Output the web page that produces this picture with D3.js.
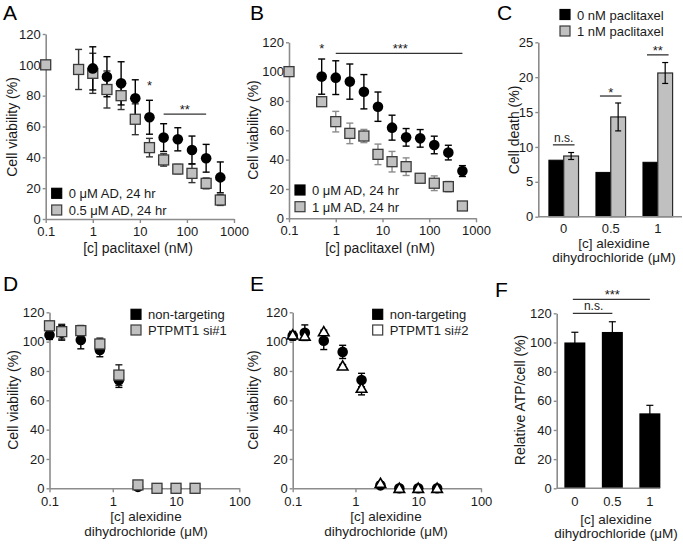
<!DOCTYPE html>
<html><head><meta charset="utf-8">
<script src="https://cdn.jsdelivr.net/npm/d3@7"></script>
<style>body{margin:0;background:#fff} svg{display:block}</style>
</head><body>
<svg id="c" width="683" height="545"></svg>
<script>
// ---------- DATA ----------
const logTickVals = [0.1, 1, 10, 100, 1000];
const logTickLabels = ["0.1", "1", "10", "100", "1000"];
const logTickVals2 = [0.1, 1, 10, 100];
const logTickLabels2 = ["0.1", "1", "10", "100"];
const viabTicks = [0, 20, 40, 60, 80, 100, 120];

// Panel A
const aBlackX = [1, 2, 4, 8, 16, 32, 64, 128, 256, 512];
const aBlackY = [97.7, 92.3, 88, 78.3, 66, 52.8, 51.7, 44.8, 39.4, 27];
const aBlackE = [14, 13, 14, 12, 11, 9, 7.5, 9, 9, 10];
const aGrayX = [0.1, 0.5, 1, 2, 4, 8, 16, 32, 64, 128, 256, 512];
const aGrayY = [100, 97, 94.5, 84, 80, 64.7, 46.3, 38.3, 32.4, 29.6, 23.1, 12.3];
const aGrayE = [0, 13, 13, 12, 9, 10, 6, 4, 3, 6, 3.5, 3.5];
const aLegend = ["0 \u03bcM AD, 24 hr", "0.5 \u03bcM AD, 24 hr"];

// Panel B
const bBlackX = [0.5, 1, 2, 4, 8, 16, 32, 64, 128, 256, 512];
const bBlackY = [96.6, 95.9, 93.2, 86.3, 76.1, 61.8, 55.2, 54.5, 50, 44.8, 32.2];
const bBlackE = [12, 11.5, 12, 11.7, 10, 8.5, 6, 6, 6, 5, 3.7];
const bGrayX = [0.1, 0.5, 1, 2, 4, 8, 16, 32, 64, 128, 256, 512];
const bGrayY = [100, 79.5, 65.9, 57.9, 56.1, 43.6, 38.6, 35.2, 27.3, 23.9, 21.6, 8.4];
const bGrayE = [0, 3, 7, 7, 4.5, 7, 7, 6, 2, 5, 3.5, 2];
const bLegend = ["0 \u03bcM AD, 24 hr", "1 \u03bcM AD, 24 hr"];

// Panel C
const cCats = ["0", "0.5", "1"];
const cBlack = [8.1, 6.35, 7.8];
const cGray = [8.7, 14.3, 20.6];
const cGrayE = [0.5, 2, 1.5];
const cTicks = [0, 5, 10, 15, 20, 25];
const cSig = ["n.s.", "*", "**"];
const cSigLevel = [10.3, 17.3, 23.2];
const cLegend = ["0 nM paclitaxel", "1 nM paclitaxel"];

// Panel D
const dX = [0.1, 0.156, 0.3125, 0.625, 1.25, 2.5, 5, 10, 20];
const dBlackY = [104.5, 106, 101.1, 94.3, 73.8, 1, 0, 0, 0];
const dBlackE = [3, 5, 6, 4.6, 5, 1, 0, 0, 0];
const dGrayY = [110.8, 106.8, 107.5, 98.4, 77.2, 2.3, 0, 0, 0];
const dGrayE = [3, 5, 3.5, 4, 7, 2, 0, 0, 0];
const dLegend = ["non-targeting", "PTPMT1 si#1"];

// Panel E
const eX = [0.1, 0.156, 0.3125, 0.625, 1.25, 2.5, 5, 10, 20];
const eBlackY = [104, 106.1, 100.6, 93, 73.8, 2, 0, 0, 0];
const eBlackE = [3, 5.3, 6, 4.5, 4.6, 1, 0, 0, 0];
const eTriY = [104.5, 103.8, 106.8, 83.4, 68.2, 3.4, 0, 0, 0];
const eTriE = [1, 1, 1, 1, 4.5, 1, 0, 0, 0];
const eLegend = ["non-targeting", "PTPMT1 si#2"];

// Panel F
const fCats = ["0", "0.5", "1"];
const fVals = [100, 107.2, 51.4];
const fErr = [7, 7, 5.5];

// ---------- DRAWING ----------
const FONT = '"Liberation Sans", Arial, Helvetica, sans-serif';
const AXIS = "#8c8c8c";
const GRAY = "#c0c0c0";
const svg = d3.select("#c").attr("font-family", FONT);

function styleAxis(g) {
  g.selectAll("path.domain").attr("stroke", AXIS).attr("stroke-width", 1.6);
  g.selectAll(".tick line").attr("stroke", AXIS).attr("stroke-width", 1.4);
  g.selectAll(".tick text").attr("fill", "#1a1a1a").attr("font-size", 13).attr("font-family", FONT);
}
function text(x, y, s, opts = {}) {
  const t = svg.append("text").attr("x", x).attr("y", y).text(s)
    .attr("font-size", opts.size || 13).attr("fill", opts.fill || "#1a1a1a")
    .attr("text-anchor", opts.anchor || "start");
  if (opts.rotate) t.attr("transform", `rotate(-90,${x},${y})`);
  return t;
}
function panelLabel(x, y, s) { text(x, y, s, { size: 21, fill: "#000" }); }

function yTitle(x, yc, s) { text(x, yc, s, { anchor: "middle", rotate: true, size: 14 }); }
function xTitle(xc, ys, lines, size) { lines.forEach((l, i) => text(xc, ys[i], l, { anchor: "middle", size: size || 14 })); }

function errBars(g, xs, ys, es, x, y, color, cap) {
  xs.forEach((xv, i) => {
    if (!es[i]) return;
    const px = x(xv), top = y(ys[i] + es[i]), bot = y(Math.max(0, ys[i] - es[i]));
    g.append("line").attr("x1", px).attr("x2", px).attr("y1", top).attr("y2", bot).attr("stroke", color).attr("stroke-width", 1.4);
    [top, bot].forEach(yy => g.append("line").attr("x1", px - cap).attr("x2", px + cap).attr("y1", yy).attr("y2", yy).attr("stroke", color).attr("stroke-width", 1.4));
  });
}
function markers(g, xs, ys, x, y, kind) {
  xs.forEach((xv, i) => {
    const px = x(xv), py = y(ys[i]);
    if (kind === "circle") g.append("circle").attr("cx", px).attr("cy", py).attr("r", 5.3).attr("fill", "#000");
    else if (kind === "square") g.append("rect").attr("x", px - 5).attr("y", py - 5).attr("width", 10).attr("height", 10).attr("fill", GRAY).attr("stroke", "#3a3a3a").attr("stroke-width", 1.3);
    else g.append("path").attr("d", d3.symbol(d3.symbolTriangle, 48)()).attr("transform", `translate(${px},${py + 1})`).attr("fill", "#fff").attr("stroke", "#000").attr("stroke-width", 1.6);
  });
}
function legendEntry(x, y, kind, label) {
  const fill = kind === "black" ? "#000" : kind === "gray" ? GRAY : "#fff";
  svg.append("rect").attr("x", x).attr("y", y).attr("width", 10).attr("height", 10).attr("fill", fill).attr("stroke", kind === "black" ? "#000" : "#3a3a3a").attr("stroke-width", 1.2);
  text(x + 17, y + 10, label);
}

function logPanel(cfg) {
  const x = d3.scaleLog().domain(cfg.xdom).range(cfg.xr);
  const y = d3.scaleLinear().domain([0, 120]).range(cfg.yr);
  const gx = svg.append("g").attr("transform", `translate(0,${cfg.yr[0]})`)
    .call(d3.axisBottom(x).tickValues(cfg.ticks).tickFormat((d, i) => cfg.labels[i]).tickSize(4).tickSizeOuter(0).tickPadding(cfg.pad));
  styleAxis(gx);
  const gy = svg.append("g").attr("transform", `translate(${cfg.xr[0]},0)`)
    .call(d3.axisLeft(y).tickValues(viabTicks).tickSize(3).tickSizeOuter(0).tickPadding(2));
  styleAxis(gy);
  const g = svg.append("g");
  return { x, y, g };
}

// ---- Panel A ----
{
  panelLabel(3, 20, "A");
  const { x, y, g } = logPanel({ xdom: [0.1, 1000], xr: [45.7, 234], yr: [219, 34], ticks: logTickVals, labels: logTickLabels, pad: 3.5 });
  errBars(g, aGrayX, aGrayY, aGrayE, x, y, "#333", 3.5);
  errBars(g, aBlackX, aBlackY, aBlackE, x, y, "#000", 3.5);
  markers(g, aGrayX, aGrayY, x, y, "square");
  markers(g, aBlackX, aBlackY, x, y, "circle");
  text(x(16), y(89) + 8, "*", { anchor: "middle" });
  g.append("line").attr("x1", x(32)).attr("x2", x(256)).attr("y1", y(68)).attr("y2", y(68)).attr("stroke", "#333").attr("stroke-width", 1.3);
  text(x(90), y(68) - 0.5, "**", { anchor: "middle" });
  legendEntry(51.7, 188.3, "black", aLegend[0]);
  legendEntry(51.7, 205, "gray", aLegend[1]);
  yTitle(17, 127, "Cell viability (%)");
  xTitle(138, [253], ["[c] paclitaxel (nM)"]);
}
// ---- Panel B ----
{
  panelLabel(250, 20, "B");
  const { x, y, g } = logPanel({ xdom: [0.1, 1000], xr: [289, 476], yr: [218.3, 42.3], ticks: logTickVals, labels: logTickLabels, pad: 3.5 });
  errBars(g, bGrayX, bGrayY, bGrayE, x, y, "#8c8c8c", 3.5);
  errBars(g, bBlackX, bBlackY, bBlackE, x, y, "#000", 3.5);
  markers(g, bGrayX, bGrayY, x, y, "square");
  markers(g, bBlackX, bBlackY, x, y, "circle");
  text(x(0.5), y(118) + 8, "*", { anchor: "middle" });
  g.append("line").attr("x1", x(1)).attr("x2", x(512)).attr("y1", y(112.5)).attr("y2", y(112.5)).attr("stroke", "#333").attr("stroke-width", 1.3);
  text(x(24), y(112.5) - 0.5, "***", { anchor: "middle" });
  legendEntry(295, 185, "black", bLegend[0]);
  legendEntry(295, 201.7, "gray", bLegend[1]);
  yTitle(258, 130, "Cell viability (%)");
  xTitle(380, [253], ["[c] paclitaxel (nM)"]);
}
// ---- Panel C ----
{
  panelLabel(497, 20, "C");
  const x = d3.scaleBand().domain(cCats).range([539.5, 682]).paddingInner(0.37).paddingOuter(0.2);
  const xs = d3.scaleBand().domain(["b", "g"]).range([0, x.bandwidth()]);
  const y = d3.scaleLinear().domain([0, 25]).range([216.7, 42.3]);
  const g = svg.append("g");
  cCats.forEach((c, i) => {
    g.append("rect").attr("x", x(c) + xs("b")).attr("y", y(cBlack[i])).attr("width", xs.bandwidth()).attr("height", y(0) - y(cBlack[i])).attr("fill", "#000").attr("stroke", "#000").attr("stroke-width", 1);
    g.append("rect").attr("x", x(c) + xs("g")).attr("y", y(cGray[i])).attr("width", xs.bandwidth()).attr("height", y(0) - y(cGray[i])).attr("fill", GRAY).attr("stroke", "#2a2a2a").attr("stroke-width", 1.2);
    const px = x(c) + xs("g") + xs.bandwidth() / 2;
    const t = y(cGray[i] + cGrayE[i]), b = y(cGray[i] - cGrayE[i]);
    g.append("line").attr("x1", px).attr("x2", px).attr("y1", t).attr("y2", b).attr("stroke", "#000").attr("stroke-width", 1.2);
    [t, b].forEach(yy => g.append("line").attr("x1", px - 3).attr("x2", px + 3).attr("y1", yy).attr("y2", yy).attr("stroke", "#000").attr("stroke-width", 1.2));
    const lx0 = x(c) + 4, lx1 = x(c) + x.bandwidth() - 4;
    g.append("line").attr("x1", lx0).attr("x2", lx1).attr("y1", y(cSigLevel[i])).attr("y2", y(cSigLevel[i])).attr("stroke", "#333").attr("stroke-width", 1.3);
    text((lx0 + lx1) / 2, y(cSigLevel[i]) - (cSig[i] === "n.s." ? 3 : -0.5), cSig[i], { anchor: "middle", size: cSig[i] === "n.s." ? 12 : 13 });
  });
  const gx = svg.append("g").attr("transform", `translate(0,${y(0)})`)
    .call(d3.axisBottom(x).tickSize(0).tickPadding(7));
  gx.select("path.domain").attr("d", `M538.3,0H682`);
  styleAxis(gx);
  const gy = svg.append("g").attr("transform", `translate(538.3,0)`)
    .call(d3.axisLeft(y).tickValues(cTicks).tickSize(3).tickSizeOuter(0).tickPadding(2));
  styleAxis(gy);
  legendEntry(560, 9.5, "black", cLegend[0]);
  legendEntry(560, 26, "gray", cLegend[1]);
  yTitle(519, 130, "Cell death (%)");
  xTitle(614, [247.5, 262], ["[c] alexidine", "dihydrochloride (\u03bcM)"], 13.5);
}
// ---- Panel D ----
{
  panelLabel(3, 291, "D");
  const { x, y, g } = logPanel({ xdom: [0.1, 100], xr: [49.5, 239.3], yr: [488.3, 312.3], ticks: logTickVals2, labels: logTickLabels2, pad: 4.5 });
  errBars(g, dX, dBlackY, dBlackE, x, y, "#000", 3.5);
  errBars(g, dX, dGrayY, dGrayE, x, y, "#222", 3.5);
  markers(g, dX, dBlackY, x, y, "circle");
  markers(g, dX, dGrayY, x, y, "square");
  legendEntry(131, 309.3, "black", dLegend[0]);
  legendEntry(131, 325, "gray", dLegend[1]);
  yTitle(18, 400, "Cell viability (%)");
  xTitle(146, [521, 535.5], ["[c] alexidine", "dihydrochloride (\u03bcM)"], 13.5);
}
// ---- Panel E ----
{
  panelLabel(250, 291, "E");
  const { x, y, g } = logPanel({ xdom: [0.1, 100], xr: [292.7, 481], yr: [488.3, 312.3], ticks: logTickVals2, labels: logTickLabels2, pad: 4.5 });
  errBars(g, eX, eBlackY, eBlackE, x, y, "#000", 3.5);
  errBars(g, eX, eTriY, eTriE, x, y, "#000", 3.5);
  markers(g, eX, eBlackY, x, y, "circle");
  markers(g, eX, eTriY, x, y, "tri");
  legendEntry(372.7, 309.3, "black", eLegend[0]);
  legendEntry(372.7, 325, "white", eLegend[1]);
  yTitle(258, 400, "Cell viability (%)");
  xTitle(386, [521, 535.5], ["[c] alexidine", "dihydrochloride (\u03bcM)"], 13.5);
}
// ---- Panel F ----
{
  panelLabel(495, 297, "F");
  const x = d3.scaleBand().domain(fCats).range([556.7, 668]).paddingInner(0.44).paddingOuter(0.204);
  const y = d3.scaleLinear().domain([0, 120]).range([488.3, 313.3]);
  const g = svg.append("g");
  fCats.forEach((c, i) => {
    const px = x(c) + x.bandwidth() / 2;
    const t = y(fVals[i] + fErr[i]), b = y(fVals[i] - fErr[i]);
    g.append("line").attr("x1", px).attr("x2", px).attr("y1", t).attr("y2", b).attr("stroke", "#000").attr("stroke-width", 1.2);
    g.append("line").attr("x1", px - 3.5).attr("x2", px + 3.5).attr("y1", t).attr("y2", t).attr("stroke", "#000").attr("stroke-width", 1.2);
    g.append("rect").attr("x", x(c)).attr("y", y(fVals[i])).attr("width", x.bandwidth()).attr("height", y(0) - y(fVals[i])).attr("fill", "#000");
  });
  const c0 = x("0") + x.bandwidth() / 2, c1 = x("0.5") + x.bandwidth() / 2, c2 = x("1") + x.bandwidth() / 2;
  g.append("line").attr("x1", c0 - 2).attr("x2", c1).attr("y1", y(120)).attr("y2", y(120)).attr("stroke", "#333").attr("stroke-width", 1.3);
  text((c0 + c1) / 2, y(120) - 3, "n.s.", { anchor: "middle", size: 12 });
  g.append("line").attr("x1", c0 - 2).attr("x2", c2).attr("y1", y(129.6)).attr("y2", y(129.6)).attr("stroke", "#333").attr("stroke-width", 1.3);
  text((c0 + c2) / 2, y(129.6) - 0.5, "***", { anchor: "middle" });
  const gx = svg.append("g").attr("transform", `translate(0,${y(0)})`)
    .call(d3.axisBottom(x).tickSize(0).tickPadding(8));
  gx.select("path.domain").attr("d", `M556.7,0H660`);
  styleAxis(gx);
  const gy = svg.append("g").attr("transform", `translate(556.7,0)`)
    .call(d3.axisLeft(y).tickValues(viabTicks).tickSize(3).tickSizeOuter(0).tickPadding(2));
  styleAxis(gy);
  yTitle(525, 400, "Relative ATP/cell (%)");
  xTitle(616, [523.5, 538], ["[c] alexidine", "dihydrochloride (\u03bcM)"], 13.5);
}
</script>
</body></html>
